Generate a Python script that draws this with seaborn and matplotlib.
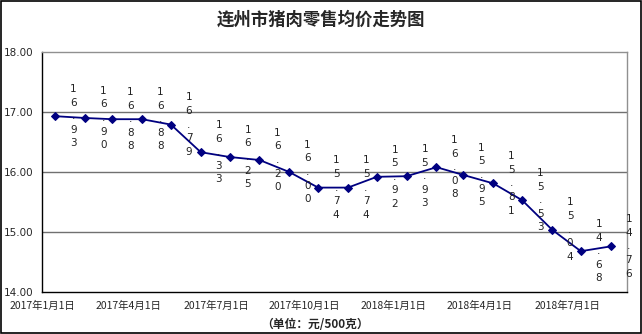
import matplotlib
matplotlib.use("Agg")
import matplotlib.pyplot as plt
import seaborn as sns
import pandas as pd
from matplotlib.patches import Rectangle

months = pd.date_range("2017-01-01", periods=20, freq="MS") + pd.Timedelta(days=14)
prices = [16.93, 16.90, 16.88, 16.88, 16.79, 16.33, 16.25, 16.20, 16.00, 15.74,
          15.74, 15.92, 15.93, 16.08, 15.95, 15.81, 15.53, 15.04, 14.68, 14.76]
tick_dates = ["2017-01-01", "2017-04-01", "2017-07-01", "2017-10-01",
              "2018-01-01", "2018-04-01", "2018-07-01"]
tick_labels = ["2017年1月1日", "2017年4月1日", "2017年7月1日", "2017年10月1日",
               "2018年1月1日", "2018年4月1日", "2018年7月1日"]
title = "连州市猪肉零售均价走势图"
unit = "（单位：元/500克）"

sns.set_style("white")
plt.rcParams['font.family'] = ['Noto Sans CJK SC', 'DejaVu Sans']

fig = plt.figure(figsize=(6.42, 3.34), dpi=100)
ax = fig.add_axes([42/642, 1-292/334, (627-42)/642, (292-52)/334])

df = pd.DataFrame({"date": pd.to_datetime(months), "price": prices})
sns.lineplot(data=df, x="date", y="price", ax=ax, color="#000080",
             marker="D", markersize=4.5, linewidth=1.3, markeredgecolor="#000080")

ax.set_xlim(pd.Timestamp("2017-01-01"), pd.Timestamp("2018-09-01"))
ax.set_ylim(14, 18)
ax.set_yticks([14, 15, 16, 17, 18])
ax.set_yticklabels([f"{v:.2f}" for v in [14, 15, 16, 17, 18]], fontsize=7.5,
                   family=['DejaVu Sans'])
ax.set_xticks(pd.to_datetime(tick_dates))
ax.set_xticklabels(tick_labels, fontsize=7.5)
ax.set_xlabel("")
ax.set_ylabel("")
ax.tick_params(axis='both', direction='out', length=4, width=1, color='black', pad=2)

for y in [15, 16, 17]:
    ax.axhline(y, color="#707070", linewidth=1, zorder=0)

for s in ["top", "right"]:
    ax.spines[s].set_color("#909090")
    ax.spines[s].set_linewidth(1)
for s in ["left", "bottom"]:
    ax.spines[s].set_color("black")
    ax.spines[s].set_linewidth(1)

for d, p in zip(df["date"], prices):
    txt = "\n".join(list(f"{p:.2f}"))
    ax.annotate(txt, xy=(d, p), xytext=(13, 0), textcoords="offset points",
                ha="center", va="center", fontsize=7.5, linespacing=1.45,
                color="#222222", family=['DejaVu Sans'])

fig.text(0.5, 1-20/334, title, ha="center", va="center", fontsize=12.5,
         fontweight="bold")
fig.text(0.49, 1-325/334, unit, ha="center", va="center", fontsize=8.5,
         fontweight="bold")

fig.patches.append(Rectangle((0.001, 0.002), 0.997, 0.996, transform=fig.transFigure,
                             fill=False, edgecolor="black", linewidth=1.2))

fig.savefig("out.png", dpi=100)
